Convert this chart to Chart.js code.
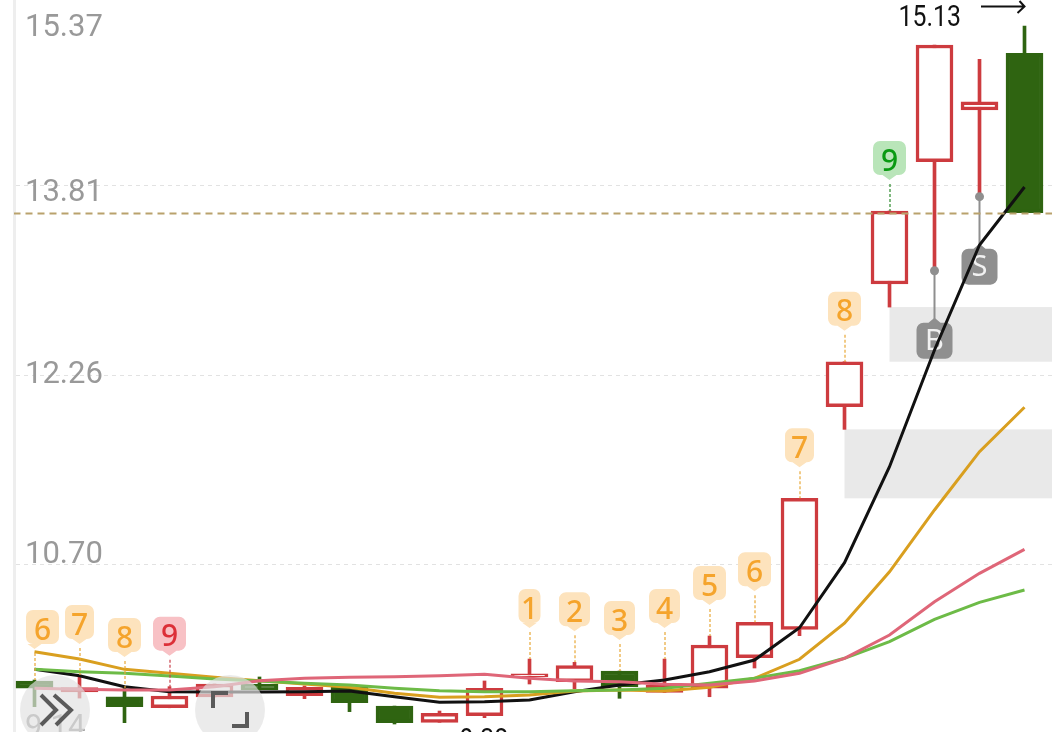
<!DOCTYPE html>
<html><head><meta charset="utf-8">
<style>html,body{margin:0;padding:0;background:#fff;overflow:hidden}canvas{display:block}</style>
<script src="https://cdn.jsdelivr.net/npm/chart.js@4"></script></head>
<body><canvas id="c" width="1052" height="732"></canvas>
<script>
const candleIndex=[0,1,2,3,4,5,6,7,8,9,10,11,12,13,14,15,16,17,18,19,20,21,22];
const bodyHigh=[9.726,9.672,9.596,9.602,9.701,9.701,9.674,9.676,9.519,9.459,9.666,9.784,9.852,9.808,9.693,10.023,10.210,11.233,12.360,13.604,14.973,14.505,14.905];
const bodyLow=[9.666,9.635,9.514,9.505,9.594,9.652,9.605,9.547,9.382,9.385,9.439,9.761,9.720,9.676,9.632,9.666,9.918,10.152,11.989,13.001,14.010,14.437,13.590];
const wickHigh=[9.734,9.775,9.668,9.679,9.701,9.759,9.685,9.693,9.519,9.478,9.726,9.907,9.880,9.808,9.907,10.097,10.210,11.233,12.360,13.604,14.973,14.855,15.130];
const wickLow=[9.514,9.585,9.382,9.505,9.594,9.652,9.580,9.473,9.371,9.385,9.423,9.701,9.662,9.583,9.632,9.596,9.833,10.099,11.802,12.811,13.111,13.722,13.590];
const candleFalling=[1,0,1,0,0,1,0,1,1,0,0,0,0,1,0,0,0,0,0,0,0,0,1];
const maBlack=[9.822,9.769,9.679,9.637,9.635,9.635,9.637,9.643,9.596,9.550,9.555,9.569,9.637,9.693,9.734,9.802,9.899,10.165,10.702,11.494,12.457,13.323,13.802];
const maOrange=[9.967,9.907,9.822,9.789,9.756,9.728,9.701,9.674,9.624,9.591,9.596,9.610,9.643,9.652,9.643,9.674,9.748,9.905,10.202,10.627,11.137,11.618,11.984];
const maPink=[9.666,9.657,9.652,9.652,9.679,9.728,9.748,9.756,9.761,9.769,9.781,9.748,9.726,9.720,9.699,9.693,9.726,9.789,9.913,10.105,10.380,10.614,10.812];
const maGreen=[9.822,9.802,9.789,9.767,9.742,9.726,9.707,9.693,9.666,9.646,9.637,9.637,9.646,9.652,9.666,9.707,9.748,9.811,9.913,10.050,10.235,10.375,10.477];
const gridValues=[13.816,12.250,10.688];
const yTickLabels=['15.37','13.81','12.26','10.70','9.14'];
const yTickAnchors=[15.109,13.748,12.250,10.762,9.339];
const lastPrice=13.583;
const yMin=9.305,yMax=15.3446;
const tdCandles=[0,1,2,3,11,12,13,14,15,16,17,18,19];
const tdLabels=['6','7','8','9','1','2','3','4','5','6','7','8','9'];
const tdKinds=['o','o','o','r','o','o','o','o','o','o','o','o','g'];
const tradeCandles=[20,21];
const tradeLabels=['B','S'];
const gapBands=[[19,18],[18,17]];
const highLabel='15.13';
const lowLabel='9.38';

const RED='#cd3b3f',GREEN='#2f6411';
const toXY=a=>a.map((v,i)=>({x:candleIndex[i],y:v}));
const lineDs=(data,color,w,order)=>({type:'line',data:toXY(data),borderColor:color,borderWidth:w,pointRadius:0,tension:0,order,fill:false});
const FONT='Roboto, sans-serif';
const flatten=s=>{s.width=0;s.paddingTop=0;s.paddingBottom=0;s.paddingLeft=0;s.paddingRight=0;};

function pin(ctx,cx,top,w,h,tip,tipDir,tipX){
  const l=cx-w/2,r=cx+w/2,b=top+h,rad=7,tx=tipX===undefined?cx:tipX;
  ctx.beginPath();
  ctx.moveTo(l+rad,top);
  if(tipDir<0){ctx.lineTo(tx-6,top);ctx.lineTo(tx,top-tip);ctx.lineTo(tx+6,top);}
  ctx.arcTo(r,top,r,b,rad);
  ctx.arcTo(r,b,l,b,rad);
  if(tipDir>0){ctx.lineTo(tx+7,b);ctx.lineTo(tx,b+tip);ctx.lineTo(tx-7,b);}
  ctx.arcTo(l,b,l,top,rad);
  ctx.arcTo(l,top,r,top,rad);
  ctx.closePath();ctx.fill();
}
function squeezed(ctx,text,x,y,sx,sy){
  ctx.save();ctx.translate(x,y);ctx.scale(sx,sy);ctx.fillText(text,0,0);ctx.restore();
}
const overlay={
  id:'overlay',
  beforeDatasetsDraw(chart){
    const {ctx,scales:{x,y}}=chart;
    ctx.save();
    ctx.fillStyle='#e9e9e9';
    gapBands.forEach(([a,b])=>{
      const xl=x.getPixelForValue(candleIndex[a]),t=y.getPixelForValue(wickHigh[b]),bt=y.getPixelForValue(wickLow[a]);
      const tp=Math.min(t,bt),h=Math.abs(t-bt);
      ctx.fillRect(xl,tp,chart.width-xl,h);
    });
    tradeCandles.forEach((c,k)=>{
      const cx=x.getPixelForValue(candleIndex[c]),ly=y.getPixelForValue(wickLow[c]);
      ctx.strokeStyle='#8f8f8f';ctx.lineWidth=2;
      ctx.beginPath();ctx.moveTo(cx,ly);ctx.lineTo(cx,ly+50);ctx.stroke();
      ctx.fillStyle='#8f8f8f';
      pin(ctx,cx,ly+52,36,36,5,-1);
      ctx.fillStyle='#f1f1f1';ctx.font='29px "Noto Sans", sans-serif';ctx.textAlign='center';ctx.textBaseline='middle';
      ctx.fillText(tradeLabels[k],cx,ly+71);
    });
    ctx.restore();
  },
  afterDraw(chart){
    const {ctx,scales:{x,y}}=chart;
    ctx.save();
    const styles={o:['#fde3bd','#f5a42c','#e8a838'],r:['#f8c1c5','#dc2f38','#c8404a'],g:['#b9e5b9','#0a9a12','#2c8a2c']};
    const widths={'1':20,'7':27,'2':29,'3':29,'4':29,'5':31,'6':31,'8':31,'9':31};
    tdCandles.forEach((c,k)=>{
      const cx=x.getPixelForValue(candleIndex[c]),hp=y.getPixelForValue(wickHigh[c]);
      const [bg,fg,dash]=styles[tdKinds[k]];
      const w=widths[tdLabels[k]]+2,tagX=Math.max(cx,26+w/2);
      ctx.strokeStyle=dash;ctx.lineWidth=1.2;ctx.setLineDash([3,2]);
      ctx.beginPath();ctx.moveTo(cx+.5,hp-27);ctx.lineTo(cx+.5,hp);ctx.stroke();ctx.setLineDash([]);
      ctx.fillStyle=bg;pin(ctx,tagX,hp-70,w,34,5,1,cx);
      ctx.fillStyle=fg;ctx.font='500 30px "Noto Sans", sans-serif';ctx.textAlign='center';ctx.textBaseline='middle';
      ctx.fillText(tdLabels[k],tagX,hp-49);
    });
    tradeCandles.forEach(c=>{
      const cx=x.getPixelForValue(candleIndex[c]),ly=y.getPixelForValue(wickLow[c]);
      ctx.fillStyle='#8f8f8f';ctx.beginPath();ctx.arc(cx,ly,4.5,0,Math.PI*2);ctx.fill();
    });
    ctx.fillStyle='#111';ctx.font='27px '+FONT;ctx.textBaseline='alphabetic';
    ctx.textAlign='right';squeezed(ctx,highLabel,961,26,.92,1.08);
    ctx.textAlign='center';squeezed(ctx,lowLabel,484,749,.92,1.08);
    const tx=x.getPixelForValue(candleIndex[22]);
    ctx.strokeStyle='#111';ctx.lineWidth=2;
    ctx.beginPath();ctx.moveTo(981,6.5);ctx.lineTo(tx,6.5);ctx.moveTo(tx-5,1);ctx.lineTo(tx,6.5);ctx.lineTo(tx-7,13);ctx.stroke();
    ctx.fillStyle='rgba(226,226,226,.68)';
    [55,230].forEach(cx=>{ctx.beginPath();ctx.arc(cx,710,35,0,Math.PI*2);ctx.fill();});
    ctx.strokeStyle='#5a5a5a';ctx.lineWidth=4;
    ctx.beginPath();ctx.moveTo(41,695);ctx.lineTo(56,710);ctx.lineTo(41,725);ctx.moveTo(54,695);ctx.lineTo(71,710);ctx.lineTo(56,725);ctx.stroke();
    ctx.beginPath();ctx.moveTo(213,708);ctx.lineTo(213,693);ctx.lineTo(228,693);ctx.moveTo(232,726);ctx.lineTo(247,726);ctx.lineTo(247,712);ctx.stroke();
    ctx.restore();
  }
};
new Chart(document.getElementById('c'),{
  data:{datasets:[
    {type:'line',data:[{x:-1,y:lastPrice},{x:24,y:lastPrice}],borderColor:'#b9a26c',borderWidth:2,borderDash:[7,5],pointRadius:0,order:0},
    lineDs(maPink,'#df6678',3,1),
    lineDs(maGreen,'#6dbb47',3,2),
    lineDs(maOrange,'#d99f1f',3,3),
    lineDs(maBlack,'#111111',3,4),
    {type:'bar',data:candleIndex.map((c,i)=>({x:c,y:[bodyLow[i],bodyHigh[i]]})),barThickness:37,borderSkipped:false,borderWidth:3.5,
      backgroundColor:candleFalling.map(f=>f?GREEN:'#ffffff'),borderColor:candleFalling.map(f=>f?GREEN:RED),grouped:false,order:5},
    {type:'bar',data:candleIndex.map((c,i)=>({x:c,y:[wickLow[i],wickHigh[i]]})),barThickness:3,borderWidth:0,
      backgroundColor:candleFalling.map(f=>f?GREEN:RED),grouped:false,order:6}
  ]},
  plugins:[overlay],
  options:{
    responsive:false,animation:false,
    layout:{padding:{left:14,right:0,top:0,bottom:0}},
    plugins:{legend:{display:false},tooltip:{enabled:false}},
    scales:{
      x:{type:'linear',min:-0.4556,max:22.611,display:false,offset:false},
      y:{position:'left',min:yMin,max:yMax,afterFit:flatten,
        afterBuildTicks:s=>{s.ticks=gridValues.map(v=>({value:v}));},
        ticks:{display:false},
        grid:{color:'#e2e2e2',lineWidth:1,drawTicks:false},
        border:{display:true,color:'#eeeeee',width:3,dash:[4,4]}},
      y2:{position:'left',min:yMin,max:yMax,afterFit:flatten,
        afterBuildTicks:s=>{s.ticks=yTickAnchors.map(v=>({value:v}));},
        grid:{display:false,drawTicks:false},border:{display:false},
        ticks:{mirror:true,padding:11,autoSkip:false,color:'#999999',font:{family:'Roboto',size:31},
          callback:(v,i)=>yTickLabels[i]}}
    }
  }
});
</script></body></html>
